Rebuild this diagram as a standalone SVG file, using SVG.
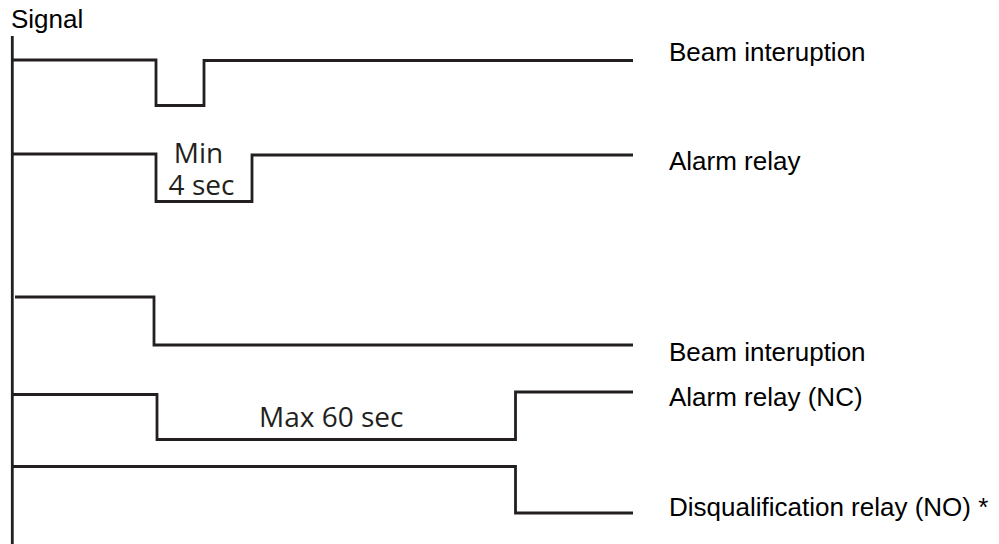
<svg xmlns="http://www.w3.org/2000/svg" width="999" height="544" viewBox="0 0 999 544">
  <style>
    .trace { fill: none; stroke: #231f20; stroke-width: 2.8; stroke-linejoin: miter; stroke-linecap: butt; }
    .label { font-family: "Liberation Sans", Arial, sans-serif; font-size: 26px; fill: #000; }
    .note { font-family: "Open Sans", "Noto Sans", sans-serif; font-size: 28px; fill: #231f20; }
  </style>
  <rect width="999" height="544" fill="#fff"/>

  <!-- signal axis -->
  <g id="axis">
    <line class="trace" x1="12.3" y1="36" x2="12.3" y2="544"/>
    <text class="label" x="11" y="28" font-size="25.5">Signal</text>
  </g>

  <!-- timing traces -->
  <g id="connectors">
    <path id="beam1" class="trace" d="M12 60 H156 V105.5 H204 V60.5 H633"/>
    <path id="alarm1" class="trace" d="M12 154 H156 V201.5 H252 V155 H633"/>
    <path id="beam2" class="trace" d="M15 297 H154 V345 H633"/>
    <path id="alarm2" class="trace" d="M12 394.5 H157 V439.5 H515.5 V392 H633"/>
    <path id="disq" class="trace" d="M12 466.5 H515.5 V513 H633"/>
  </g>

  <!-- trace names -->
  <g id="label-beam1"><text class="label" x="669" y="61">Beam interuption</text></g>
  <g id="label-alarm1"><text class="label" x="669" y="170">Alarm relay</text></g>
  <g id="label-beam2"><text class="label" x="669" y="361">Beam interuption</text></g>
  <g id="label-alarm2"><text class="label" x="669" y="406">Alarm relay (NC)</text></g>
  <g id="label-disq"><text class="label" x="669" y="516">Disqualification relay (NO) *</text></g>

  <!-- durations -->
  <g id="min-duration">
    <text class="note" x="198.5" y="163" text-anchor="middle">Min</text>
    <text class="note" x="201.5" y="195" text-anchor="middle">4 sec</text>
  </g>
  <g id="max-duration">
    <text class="note" x="259" y="427">Max 60 sec</text>
  </g>
</svg>
